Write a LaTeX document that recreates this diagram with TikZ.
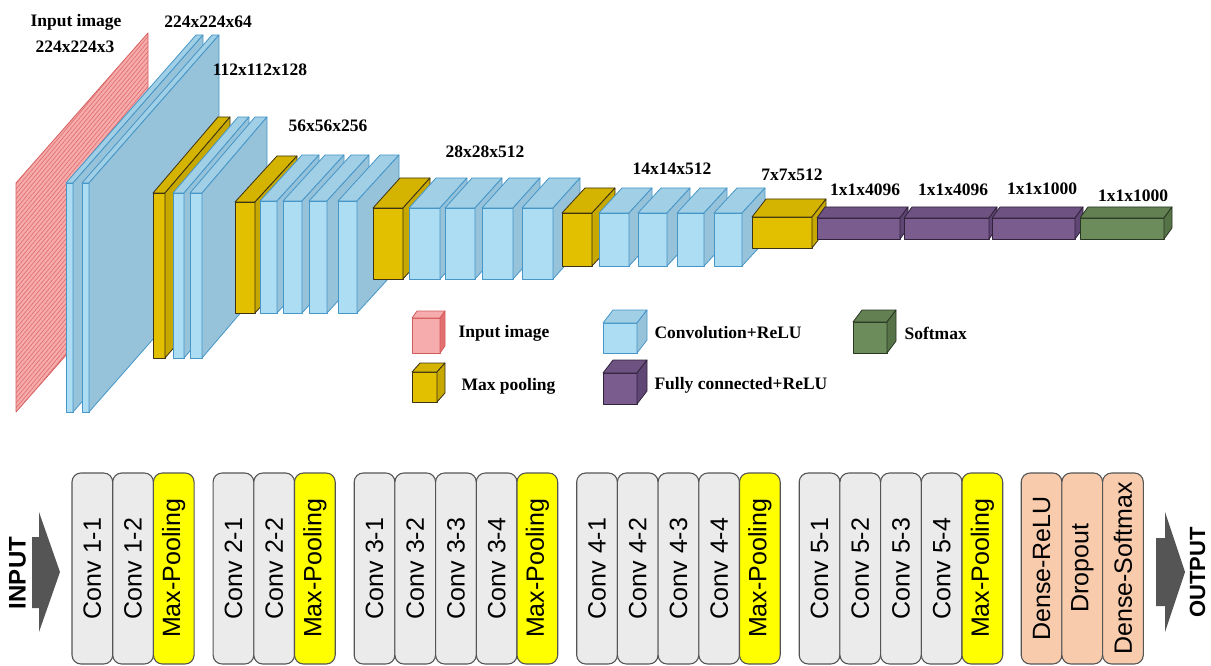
\documentclass[tikz,border=0pt]{standalone}
\usepackage{fontspec}
\setmainfont{Liberation Serif}
\setsansfont{Liberation Sans}
\usetikzlibrary{positioning,patterns.meta}

\definecolor{convF}{RGB}{172,221,242}
\definecolor{convT}{RGB}{160,207,230}
\definecolor{convS}{RGB}{150,194,218}
\definecolor{convB}{RGB}{70,150,200}
\definecolor{poolF}{RGB}{226,192,0}
\definecolor{poolT}{RGB}{212,180,0}
\definecolor{poolS}{RGB}{198,168,0}
\definecolor{poolB}{RGB}{60,50,20}
\definecolor{fcF}{RGB}{122,92,142}
\definecolor{fcT}{RGB}{110,82,130}
\definecolor{fcS}{RGB}{96,70,116}
\definecolor{fcB}{RGB}{50,35,60}
\definecolor{smF}{RGB}{108,140,92}
\definecolor{smT}{RGB}{98,128,82}
\definecolor{smS}{RGB}{86,115,72}
\definecolor{smB}{RGB}{40,55,35}
\definecolor{inpF}{RGB}{246,172,172}
\definecolor{inpL}{RGB}{226,112,112}
\definecolor{inpB}{RGB}{212,92,92}
\definecolor{cvF}{RGB}{235,235,235}
\definecolor{mpF}{RGB}{255,255,0}
\definecolor{dnF}{RGB}{248,203,173}
\definecolor{layB}{RGB}{85,85,85}
\definecolor{arrG}{RGB}{85,85,85}

% cuboid: x front left, x front right, y top, y bottom, depth dx, depth dy, kind
\newcommand{\cube}[7]{%
  \filldraw[#7 front] (#1,#3) rectangle (#2,#4);
  \filldraw[#7 top] (#1,#3) -- ++(#5,#6) -- ++(#2-#1,0) -- (#2,#3) -- cycle;
  \filldraw[#7 side] (#2,#3) -- ++(#5,#6) -- ++(0,#4-#3) -- (#2,#4) -- cycle;
}

\begin{document}
\begin{tikzpicture}[x=1pt,y=-1pt,line join=round,
    conv front/.style={fill=convF,draw=convB,line width=0.8pt},
    conv top/.style={fill=convT,draw=convB,line width=0.8pt},
    conv side/.style={fill=convS,draw=convB,line width=0.8pt},
    pool front/.style={fill=poolF,draw=poolB,line width=0.8pt},
    pool top/.style={fill=poolT,draw=poolB,line width=0.8pt},
    pool side/.style={fill=poolS,draw=poolB,line width=0.8pt},
    fc front/.style={fill=fcF,draw=fcB,line width=0.8pt},
    fc top/.style={fill=fcT,draw=fcB,line width=0.8pt},
    fc side/.style={fill=fcS,draw=fcB,line width=0.8pt},
    sm front/.style={fill=smF,draw=smB,line width=0.8pt},
    sm top/.style={fill=smT,draw=smB,line width=0.8pt},
    sm side/.style={fill=smS,draw=smB,line width=0.8pt},
    inp front/.style={fill=inpF,draw=inpB,line width=0.8pt},
    inp top/.style={fill=inpF,draw=inpB,line width=0.8pt},
    inp side/.style={fill=inpL,draw=inpB,line width=0.8pt},
    lbl/.style={font=\bfseries\fontsize{17.5}{18}\selectfont},
    key/.style={lbl,anchor=west},
    lay/.style={draw=layB,line width=1.1pt,rounded corners=9pt,
      minimum width=40.7pt,minimum height=191pt,inner sep=0pt,outer sep=0pt,
      font=\sffamily\fontsize{25}{25}\selectfont},
    cv/.style={lay,fill=cvF},
    mp/.style={lay,fill=mpF},
    dn/.style={lay,fill=dnF},
    io/.style={font=\sffamily\bfseries\fontsize{24}{24}\selectfont,rotate=90}]
    \useasboundingbox (0,0) rectangle (1211,666);

    % input image plane
    \filldraw[inp front] (16,183) -- ++(132,-150) -- ++(0,229) -- (16,412) -- cycle;
    \fill[pattern={Lines[angle=50,distance=3.2pt,line width=0.7pt]},pattern color=inpL]
        (16,183) -- ++(132,-150) -- ++(0,229) -- (16,412) -- cycle;

    % block 1
    \cube{66}{73}{183}{412}{130}{-148}{conv}
    \cube{82}{89}{183}{412}{130}{-148}{conv}
    % block 2
    \cube{153}{165}{193}{358}{65}{-76}{pool}
    \cube{173}{184}{193}{358}{65}{-76}{conv}
    \cube{190}{202}{193}{358}{65}{-76}{conv}
    % block 3
    \cube{235}{255}{202}{313}{42}{-46}{pool}
    \foreach \a/\b in {260/277,283/302,309/327,338/357}
        {\cube{\a}{\b}{201}{313}{42}{-46}{conv}}
    % block 4
    \cube{373}{403}{208}{279}{27}{-30}{pool}
    \foreach \a/\b in {409/440,445/475,482/513,522/553}
        {\cube{\a}{\b}{208}{279}{27}{-30}{conv}}
    % block 5
    \cube{562}{592}{213}{266}{23}{-25}{pool}
    \foreach \a/\b in {599/629,638/667,677/704,714/742}
        {\cube{\a}{\b}{213}{266}{23}{-25}{conv}}
    % block 6 and dense layers
    \cube{752}{812}{217}{248}{14}{-18}{pool}
    \cube{817}{900}{218}{239}{8}{-11}{fc}
    \cube{904}{989}{218}{239}{8}{-11}{fc}
    \cube{992}{1075}{218}{239}{8}{-11}{fc}
    \cube{1080}{1164}{218}{239}{8}{-11}{sm}

    \node[lbl] (tin) at (76,22) {Input image};
    \node[lbl] (tin2) at (75,47) {224x224x3};
    \node[lbl] (t1) at (208,22) {224x224x64};
    \node[lbl] (t2) at (260,70) {112x112x128};
    \node[lbl] (t3) at (328,126) {56x56x256};
    \node[lbl] (t4) at (485,152) {28x28x512};
    \node[lbl] (t5) at (672,169) {14x14x512};
    \node[lbl] (t6) at (792,175) {7x7x512};
    \node[lbl] (t7) at (865,190) {1x1x4096};
    \node[lbl] (t8) at (953,190) {1x1x4096};
    \node[lbl] (t9) at (1042,189) {1x1x1000};
    \node[lbl] (t10) at (1133,196) {1x1x1000};

    % legend
    \cube{412}{440}{318}{353}{5}{-7}{inp}
    \cube{412}{437}{372}{402}{8}{-9}{pool}
    \cube{603}{637}{323}{353}{10}{-13}{conv}
    \cube{603}{637}{373}{404}{10}{-13}{fc}
    \cube{853}{887}{322}{353}{9}{-12}{sm}
    \node[key] (kin) at (455,333) {Input image};
    \node[key] (kmp) at (458,386) {Max pooling};
    \node[key] (kcv) at (651,333) {Convolution+ReLU};
    \node[key] (kfc) at (651,385) {Fully connected+ReLU};
    \node[key] (ksm) at (901,333) {Softmax};

    % layer list
    \fill[arrG] (32,537) -- (39,537) -- (39,512) -- (60,572) -- (39,632) -- (39,608) -- (32,608) -- cycle;
    \node[io] (inp) at (17.5,573) {INPUT};

    \node[cv] (c11) at (92.35,568.5) {\rotatebox{90}{Conv 1-1}};
    \node[cv,right=0pt of c11] (c12) {\rotatebox{90}{Conv 1-2}};
    \node[mp,right=0pt of c12] (p1) {\rotatebox{90}{Max-Pooling}};

    \node[cv,right=19pt of p1] (c21) {\rotatebox{90}{Conv 2-1}};
    \node[cv,right=0pt of c21] (c22) {\rotatebox{90}{Conv 2-2}};
    \node[mp,right=0pt of c22] (p2) {\rotatebox{90}{Max-Pooling}};

    \node[cv,right=19pt of p2] (c31) {\rotatebox{90}{Conv 3-1}};
    \node[cv,right=0pt of c31] (c32) {\rotatebox{90}{Conv 3-2}};
    \node[cv,right=0pt of c32] (c33) {\rotatebox{90}{Conv 3-3}};
    \node[cv,right=0pt of c33] (c34) {\rotatebox{90}{Conv 3-4}};
    \node[mp,right=0pt of c34] (p3) {\rotatebox{90}{Max-Pooling}};

    \node[cv,right=19pt of p3] (c41) {\rotatebox{90}{Conv 4-1}};
    \node[cv,right=0pt of c41] (c42) {\rotatebox{90}{Conv 4-2}};
    \node[cv,right=0pt of c42] (c43) {\rotatebox{90}{Conv 4-3}};
    \node[cv,right=0pt of c43] (c44) {\rotatebox{90}{Conv 4-4}};
    \node[mp,right=0pt of c44] (p4) {\rotatebox{90}{Max-Pooling}};

    \node[cv,right=19pt of p4] (c51) {\rotatebox{90}{Conv 5-1}};
    \node[cv,right=0pt of c51] (c52) {\rotatebox{90}{Conv 5-2}};
    \node[cv,right=0pt of c52] (c53) {\rotatebox{90}{Conv 5-3}};
    \node[cv,right=0pt of c53] (c54) {\rotatebox{90}{Conv 5-4}};
    \node[mp,right=0pt of c54] (p5) {\rotatebox{90}{Max-Pooling}};

    \node[dn,right=18.5pt of p5] (d1) {\rotatebox{90}{Dense-ReLU}};
    \node[dn,right=0pt of d1] (d2) {\rotatebox{90}{Dropout}};
    \node[dn,right=0pt of d2] (d3) {\rotatebox{90}{Dense-Softmax}};

    \fill[arrG] (1156,538) -- (1165,538) -- (1165,512) -- (1185,572) -- (1165,632) -- (1165,606) -- (1156,606) -- cycle;
    \node[io,font=\sffamily\bfseries\fontsize{22}{22}\selectfont] (out) at (1197.5,572.5) {OUTPUT};
\end{tikzpicture}
\end{document}
